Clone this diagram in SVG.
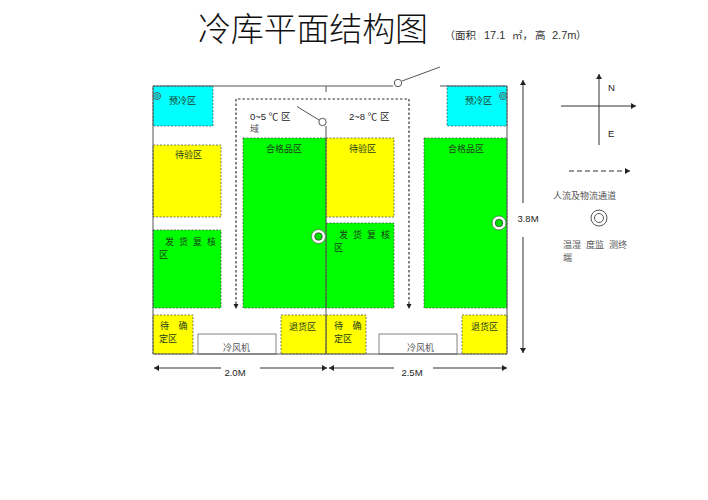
<svg xmlns="http://www.w3.org/2000/svg" width="708" height="500" viewBox="0 0 708 500">
<style>
text{font-family:"Liberation Sans","Noto Sans CJK SC",sans-serif;font-size:9.5px;fill:#222}
.s{font-family:"Noto Sans CJK SC","Liberation Serif",serif;font-size:9px;fill:#1c3a1c}
.g{font-family:"Noto Sans CJK SC","Liberation Serif",serif;font-size:9px;fill:#555}
.z{stroke:#555;stroke-width:.8;stroke-dasharray:2 1.5}
.c{fill:#0ff}.y{fill:#ff0}.n{fill:#0f0}
.l{stroke:#555;stroke-width:1;fill:none}
.a{stroke:#333;stroke-width:1;fill:none}
.d{stroke:#333;stroke-width:1.2;fill:none;stroke-dasharray:2.5 2}
</style>
<defs>
<marker id="m" markerWidth="6" markerHeight="6" refX="5" refY="3" orient="auto-start-reverse" markerUnits="userSpaceOnUse"><path d="M0 0L5 3L0 6Z" fill="#222"/></marker>
</defs>
<rect width="708" height="500" fill="#fff"/>
<text x="198" y="41" style="font-family:'Noto Sans CJK SC','Liberation Serif',serif;font-size:33px;fill:#111;font-weight:300" textLength="230">冷库平面结构图</text>
<text y="39" style="font-size:10.5px;fill:#333"><tspan x="444.500">（面积</tspan> <tspan x="484" style="font-size:11px">17.1</tspan> <tspan x="512">㎡，</tspan><tspan x="535">高</tspan> <tspan x="552" style="font-size:11px">2.7m</tspan><tspan x="576">）</tspan></text>
<g id="zones">
<g id="preL"><rect x="153" y="86" width="60" height="40" class="c z"/><text class="s" x="169" y="104">预冷区</text></g>
<g id="preR"><rect x="447" y="86" width="60" height="40" class="c z"/><text class="s" x="465" y="104">预冷区</text></g>
<g id="waitL"><rect x="153" y="145" width="68" height="72" class="y z"/><text class="s" x="175" y="158">待验区</text></g>
<g id="waitR"><rect x="326" y="138" width="68" height="79" class="y z"/><text class="s" x="349" y="152">待验区</text></g>
<g id="shipL"><rect x="153" y="230" width="68" height="78" class="n z"/><text class="s" x="165" y="245" word-spacing="3">发 货 复 核</text><text class="s" x="159" y="258">区</text></g>
<g id="shipR"><rect x="326" y="223" width="68" height="85" class="n z"/><text class="s" x="339" y="238" word-spacing="3">发 货 复 核</text><text class="s" x="334" y="251">区</text></g>
<g id="okL"><rect x="243" y="138" width="83" height="170" class="n z"/><text class="s" x="266" y="152">合格品区</text></g>
<g id="okR"><rect x="424" y="138" width="83" height="170" class="n z"/><text class="s" x="448" y="152">合格品区</text></g>
<g id="tbdL"><rect x="153" y="315" width="40" height="39" class="y z"/><text class="s" x="160" y="328.500" word-spacing="7.500">待 确</text><text class="s" x="159" y="342">定区</text></g>
<g id="tbdR"><rect x="326" y="315" width="40" height="39" class="y z"/><text class="s" x="334" y="328.500" word-spacing="7.500">待 确</text><text class="s" x="334" y="342">定区</text></g>
<g id="retL"><rect x="281" y="315" width="45" height="39" class="y z"/><text class="s" x="289" y="330">退货区</text></g>
<g id="retR"><rect x="462" y="315" width="45" height="39" class="y z"/><text class="s" x="471" y="330">退货区</text></g>
<g id="fanL"><rect x="198" y="334" width="78" height="20" fill="#fff" stroke="#666" stroke-width=".8"/><text class="g" x="223" y="351">冷风机</text></g>
<g id="fanR"><rect x="379" y="334" width="78" height="20" fill="#fff" stroke="#666" stroke-width=".8"/><text class="g" x="407" y="351">冷风机</text></g>
</g>
<g id="connectors">
<path class="l" d="M153 86V354H507V86H440M153 86H393M326 86V92M326 126V354M402 81L440 67M297 106.500L319 120"/>
<circle cx="398" cy="83" r="3.700" fill="#fff" stroke="#555"/>
<circle cx="322.500" cy="122" r="3.700" fill="#fff" stroke="#555"/>
<path class="d" d="M236 304V99H409V304"/>
<path d="M233.500 304h5l-2.500 5zM406.500 304h5l-2.500 5z" fill="#222"/>
<path class="a" d="M221 368H154" marker-end="url(#m)"/>
<path class="a" d="M260 368H327" marker-end="url(#m)"/>
<path class="a" d="M394 368H329" marker-end="url(#m)"/>
<path class="a" d="M433 368H507" marker-end="url(#m)"/>
<path class="a" d="M523 203V80" marker-end="url(#m)"/>
<path class="a" d="M523 237V353" marker-end="url(#m)"/>
<path class="a" d="M599 145V74" marker-end="url(#m)"/>
<path class="a" d="M561 106H636" marker-end="url(#m)"/>
<path class="a" d="M569 171H630" stroke-dasharray="5 3" marker-end="url(#m)"/>
</g>
<g id="sensors" fill="none">
<g id="s1"><circle cx="157" cy="96" r="3.500" stroke="#555" stroke-width="1"/><circle cx="157" cy="96" r="1.500" stroke="#555" stroke-width=".8"/></g>
<g id="s2"><circle cx="503" cy="96" r="3.500" stroke="#555" stroke-width="1"/><circle cx="503" cy="96" r="1.500" stroke="#555" stroke-width=".8"/></g>
<g id="s3"><circle cx="318.500" cy="236.500" r="7" fill="#fff" stroke="#555" stroke-width=".7"/><circle cx="318.500" cy="236.500" r="3.800" fill="#0d0" stroke="#333" stroke-width=".7"/></g>
<g id="s4"><circle cx="499" cy="223" r="7" fill="#fff" stroke="#555" stroke-width=".7"/><circle cx="499" cy="223" r="3.800" fill="#0d0" stroke="#333" stroke-width=".7"/></g>
<g id="legendSensor"><circle cx="599" cy="218" r="8" stroke="#555"/><circle cx="599" cy="218" r="4.500" stroke="#555"/></g>
</g>
<text x="250" y="120" fill="#333">0~5 ℃ 区</text>
<text class="g" x="250" y="132">域</text>
<text x="349" y="120">2~8 ℃ 区</text>
<text x="235" y="376" text-anchor="middle">2.0M</text>
<text x="412" y="376" text-anchor="middle">2.5M</text>
<text x="528" y="222" text-anchor="middle">3.8M</text>
<text x="608" y="91">N</text>
<text x="608" y="137">E</text>
<text class="g" x="553" y="199">人流及物流通道</text>
<text class="g" x="563" y="248" word-spacing="3">温湿 度监 测终</text>
<text class="g" x="563" y="261">端</text>
</svg>
